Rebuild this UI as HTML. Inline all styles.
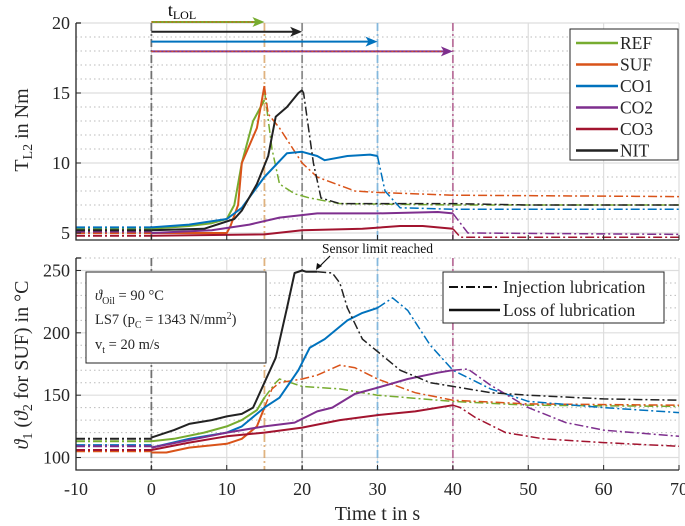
<!DOCTYPE html>
<html><head><meta charset="utf-8">
<style>
html,body{margin:0;padding:0;background:#fff;}
svg{display:block;font-family:"Liberation Serif",serif;}
</style></head>
<body>
<svg id="chart" width="685" height="526" viewBox="0 0 685 526" xmlns="http://www.w3.org/2000/svg"></svg>
<script>
// ---------- data ----------
const seriesNames = ["REF","SUF","CO1","CO2","CO3","NIT"];
const seriesColors = ["#77AC30","#D95319","#0072BD","#7E2F8E","#A2142F","#222222"];
const lolEnd = [15,15,30,40,40,20];
const xTicks = [-10,0,10,20,30,40,50,60,70];
const topYTicks = [5,10,15,20];
const botYTicks = [100,150,200,250];

// torque: [t, value]
const torquePre = [5.3,5.0,5.4,5.1,4.8,5.2];
const torqueSolid = [
 [[0,5.3],[5,5.5],[8,5.7],[10,6.0],[11,7],[12,10],[13.5,13],[15,14.5]],
 [[0,5.0],[10,5.0],[10.5,5.5],[11.5,7],[12,10],[14,12.5],[15,15.5]],
 [[0,5.4],[5,5.6],[10,6.0],[12,6.8],[15,9],[18,10.7],[20,10.8],[22,10.5],[23,10.2],[26,10.5],[29,10.6],[30,10.5]],
 [[0,5.0],[8,5.2],[13,5.6],[17,6.1],[22,6.4],[30,6.4],[38,6.5],[40,6.4]],
 [[0,4.8],[15,4.9],[20,5.2],[28,5.3],[33,5.5],[36,5.5],[40,5.3]],
 [[0,5.2],[7,5.3],[11,6.0],[12,6.6],[14,8.5],[15.5,10.5],[16.5,13.3],[18,14],[19.5,15.0],[20,15.2]]
];
const torqueDash = [
 [[15,15.2],[16,11],[17,8.5],[19,7.8],[21,7.5],[25,7.1],[40,7.0],[70,7.0]],
 [[15,15.5],[15.5,13.5],[17,12.5],[20,10],[22,9],[27,8],[30,7.9],[40,7.7],[70,7.6]],
 [[30,10.5],[31,8],[33,6.8],[40,6.7],[70,6.7]],
 [[40,6.4],[42,5.0],[70,4.9]],
 [[40,5.3],[41,4.7],[70,4.7]],
 [[20,15.2],[20.2,15],[21.5,10],[22.5,7.5],[25,7.1],[40,7.1],[50,7.0],[70,7.0]]
];
// temperature
const tempPre = [113,105,110,109,106,115];
const tempSolid = [
 [[0,113],[3,115],[7,120],[10,125],[12,130],[14,138],[15,148]],
 [[0,104],[2,104],[5,108],[10,111],[12,115],[14,125],[15,140]],
 [[0,108],[5,115],[10,120],[12,125],[15,140],[17,148],[19.5,170],[21,188],[23,195],[26,210],[28,216],[30,220]],
 [[0,108],[5,114],[10,120],[15,125],[19,128],[22,137],[24,140],[27,151],[30,156],[34,163],[38,168],[40,170]],
 [[0,106],[5,112],[10,117],[15,120],[20,124],[25,130],[30,134],[35,137],[40,142]],
 [[0,116],[3,122],[5,127],[8,130],[10,133],[12,135],[13.5,140],[15,160],[16.5,180],[18,220],[19,248],[20,250],[20.5,249],[22,249]]
];
const tempDash = [
 [[15,148],[16.5,160],[17,163],[20,157],[25,155],[30,150],[40,145],[50,142],[70,141]],
 [[15,140],[16,155],[17,160],[20,163],[22,166],[25,174],[27,172],[30,163],[35,152],[40,146],[50,143],[70,142]],
 [[30,220],[32,228],[34,218],[37,190],[40,170],[45,155],[50,145],[60,140],[70,136]],
 [[40,170],[42,171],[45,158],[50,140],[55,128],[60,122],[70,117]],
 [[40,142],[41,140],[43,132],[47,120],[52,115],[60,112],[70,109]],
 [[22,249],[24,248],[25,240],[26,220],[28,195],[30,185],[33,170],[37,160],[40,157],[45,152],[50,150],[60,147],[70,146]]
];

// ---------- layout ----------
const svg = document.getElementById('chart');
const NS = 'http://www.w3.org/2000/svg';
const XL=76, XR=679;
const T = {top:23, bottom:240, ymin:4.5, ymax:20};
const B = {top:258, bottom:470, ymin:90, ymax:260};
const sx = t => XL + (t+10)/80*(XR-XL);
const syT = v => T.bottom - (v-T.ymin)/(T.ymax-T.ymin)*(T.bottom-T.top);
const syB = v => B.bottom - (v-B.ymin)/(B.ymax-B.ymin)*(B.bottom-B.top);

function el(tag, attrs, parent){
  const e=document.createElementNS(NS,tag);
  for(const k in attrs) e.setAttribute(k,attrs[k]);
  (parent||svg).appendChild(e); return e;
}
function pathD(pts, sy){ return pts.map((p,i)=>(i?'L':'M')+sx(p[0]).toFixed(1)+','+sy(p[1]).toFixed(1)).join(''); }

function drawGrid(P, sy, minorStep, majorTicks, name){
  const g=el('g',{});
  
  
  for(let v=Math.ceil(P.ymin/minorStep)*minorStep; v<=P.ymax; v+=minorStep){
    if(majorTicks.includes(v)) continue;
    el('line',{x1:XL,x2:XR,y1:sy(v),y2:sy(v),stroke:'#bbb','stroke-width':1,'stroke-dasharray':'1.5,3'},g);
  }
  majorTicks.forEach(v=>el('line',{x1:XL,x2:XR,y1:sy(v),y2:sy(v),stroke:'#ddd','stroke-width':1.2},g));
  xTicks.forEach(t=>el('line',{x1:sx(t),x2:sx(t),y1:P.top,y2:P.bottom,stroke:'#ddd','stroke-width':1.2},g));
}
drawGrid(T, syT, 1, topYTicks, 'top');
drawGrid(B, syB, 10, botYTicks, 'bottom');

// vertical markers
const markerTimes=[0,15,20,30,40];
const markerColors=['#555','#d9a060','#777','#6fb0dd','#b0558a'];
[[T,syT],[B,syB]].forEach(([P],k)=>{
  markerTimes.forEach((t,i)=>{
    const l=el('line',{x1:sx(t),x2:sx(t),y1:P.top,y2:P.bottom,stroke:markerColors[i],'stroke-width':1.8,'stroke-dasharray':'8,3,2,3',opacity:0.8});
    
    
  });
});

// series
function drawSeries(pre, solid, dash, sy, name){
  for(let i=0;i<seriesNames.length;i++){
    const g=el('g',{});
    
    
    const c=seriesColors[i];
    el('path',{d:pathD([[-10,pre[i]],[0,pre[i]]],sy),fill:'none',stroke:c,'stroke-width':2,'stroke-dasharray':'9,3,2,3'},g);
    el('path',{d:pathD(dash[i],sy),fill:'none',stroke:c,'stroke-width':1.5,'stroke-dasharray':'9,3,2,3'},g);
    el('path',{d:pathD(solid[i],sy),fill:'none',stroke:c,'stroke-width':2,'stroke-linejoin':'round'},g);
  }
}
drawSeries(torquePre, torqueSolid, torqueDash, syT, 'torque');
drawSeries(tempPre, tempSolid, tempDash, syB, 'temp');

// arrows
const arrowY=[20,19.3,18.6,17.9];
const arrowEnd=[15,20,30,40];
const arrowCols=['#77AC30','#222','#0072BD','#7E2F8E'];
arrowY.forEach((v,i)=>{
  const g=el('g',{});
  
  
  const y=syT(v)-1, x0=sx(0), x1=sx(arrowEnd[i]);
  el('line',{x1:x0,x2:x1-8,y1:y,y2:y,stroke:arrowCols[i],'stroke-width':2},g);
  if(i===0||i===3) el('line',{x1:x0,x2:x1-8,y1:y,y2:y,stroke:'#D95319','stroke-width':1,'stroke-dasharray':'2,2'},g);
  el('path',{d:`M${x1},${y}L${x1-12},${y-5}L${x1-9},${y}L${x1-12},${y+5}Z`,fill:arrowCols[i]},g);
});
const tl=el('text',{x:182,y:16,'font-size':18,'text-anchor':'middle'});


tl.innerHTML='t<tspan font-size="12" dy="3">LOL</tspan>';

// axes frames + ticks
[[T,syT,topYTicks,'top'],[B,syB,botYTicks,'bottom']].forEach(([P,sy,yt,nm])=>{
  const f=el('path',{d:`M${XL},${P.top}L${XL},${P.bottom}L${XR},${P.bottom}`,fill:'none',stroke:'#262626','stroke-width':1.3});
  
  
  el('line',{x1:XL,x2:XL+5,y1:P.top,y2:P.top,stroke:'#262626','stroke-width':1.3});
  yt.forEach(v=>{
    el('line',{x1:XL,x2:XL+5,y1:sy(v),y2:sy(v),stroke:'#262626','stroke-width':1});
    const t=el('text',{x:XL-6,y:sy(v)+6,'font-size':18,'text-anchor':'end',fill:'#262626'});
    
    
    t.textContent=v;
  });
  xTicks.forEach(t=>el('line',{x1:sx(t),x2:sx(t),y1:P.bottom,y2:P.bottom-5,stroke:'#262626','stroke-width':1}));
});
xTicks.forEach(t=>{
  const tx=el('text',{x:sx(t),y:495,'font-size':18,'text-anchor':'middle',fill:'#262626'});
  
  
  tx.textContent=t;
});
const xl=el('text',{x:sx(30),y:520,'font-size':20,'text-anchor':'middle',fill:'#262626'});


xl.textContent='Time t in s';
const yl1=el('text',{x:0,y:0,'font-size':20,'text-anchor':'middle',fill:'#262626',transform:'translate(28,130) rotate(-90)'});


yl1.innerHTML='T<tspan font-size="14" dy="4">L2</tspan><tspan dy="-4"> in Nm</tspan>';
const yl2=el('text',{x:0,y:0,'font-size':20,'text-anchor':'middle',fill:'#262626',transform:'translate(28,365) rotate(-90)'});


yl2.innerHTML='<tspan font-style="italic">ϑ</tspan><tspan font-size="14" dy="4">1</tspan><tspan dy="-4"> (</tspan><tspan font-style="italic">ϑ</tspan><tspan font-size="14" dy="4">2</tspan><tspan dy="-4"> for SUF) in °C</tspan>';

// top legend
const lg=el('g',{});


el('rect',{x:570,y:29,width:108,height:131,fill:'#fff',stroke:'#262626','stroke-width':1},lg);
seriesNames.forEach((n,i)=>{
  const y=43+i*21.5;
  const e=el('g',{},lg);
  
  
  el('line',{x1:576,x2:618,y1:y,y2:y,stroke:seriesColors[i],'stroke-width':2.5},e);
  const t=el('text',{x:620,y:y+6,'font-size':17.5,fill:'#262626'},e);
  t.textContent=n;
});
// bottom legend
const lg2=el('g',{});


el('rect',{x:443,y:272,width:221,height:51,fill:'#fff',stroke:'#262626','stroke-width':1},lg2);
el('line',{x1:449,x2:500,y1:287,y2:287,stroke:'#111','stroke-width':2,'stroke-dasharray':'9,3,2,3'},lg2);
el('line',{x1:449,x2:500,y1:310,y2:310,stroke:'#111','stroke-width':2.5},lg2);
let t1=el('text',{x:503,y:293,'font-size':17.5,fill:'#262626'},lg2); t1.textContent='Injection lubrication';
let t2=el('text',{x:503,y:316,'font-size':17.5,fill:'#262626'},lg2); t2.textContent='Loss of lubrication';
// info box
const ib=el('g',{});


el('rect',{x:86,y:272,width:180,height:91,fill:'#fff',stroke:'#262626','stroke-width':1},ib);
let a=el('text',{x:95,y:300,'font-size':14.5,fill:'#262626'},ib);
a.innerHTML='<tspan font-style="italic">ϑ</tspan><tspan font-size="10" dy="4">Oil</tspan><tspan dy="-4"> = 90 °C</tspan>';
let b=el('text',{x:95,y:324,'font-size':14.5,fill:'#262626'},ib);
b.innerHTML='LS7 (p<tspan font-size="10" dy="4">C</tspan><tspan dy="-4"> = 1343 N/mm</tspan><tspan font-size="10" dy="-5">2</tspan><tspan dy="5">)</tspan>';
let c=el('text',{x:95,y:349,'font-size':14.5,fill:'#262626'},ib);
c.innerHTML='v<tspan font-size="10" dy="4">t</tspan><tspan dy="-4"> = 20 m/s</tspan>';
// sensor limit annotation
const sa=el('g',{});


let st=el('text',{x:322,y:253,'font-size':13.5,fill:'#111'},sa); st.textContent='Sensor limit reached';
el('line',{x1:330,x2:318,y1:256,y2:268,stroke:'#111','stroke-width':1.2},sa);
el('path',{d:'M316,270 L317,263 L322,266 Z',fill:'#111'},sa);
</script>
</body></html>
